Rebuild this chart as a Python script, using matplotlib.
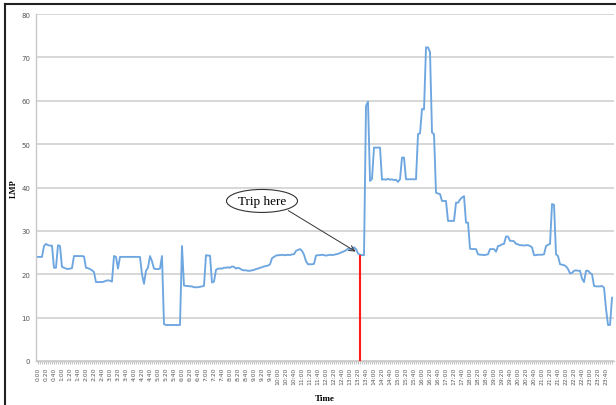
import matplotlib
matplotlib.use('Agg')
import matplotlib.pyplot as plt
from matplotlib.patches import Ellipse

# LMP every 5 minutes, one row per hour
lmp = [
    24.0, 24.0, 24.0, 26.5, 27.0, 26.7, 26.6, 26.6, 21.5, 21.5, 26.7, 26.5,
    21.7, 21.5, 21.3, 21.2, 21.3, 21.4, 24.2, 24.2, 24.2, 24.2, 24.2, 24.1,
    21.5, 21.4, 21.2, 20.9, 20.5, 18.2, 18.2, 18.2, 18.2, 18.3, 18.5, 18.6,
    18.5, 18.3, 24.2, 24.0, 21.3, 24.0, 24.0, 24.0, 24.0, 24.0, 24.0, 24.0,
    24.0, 24.0, 24.0, 24.0, 20.0, 17.8, 20.8, 21.5, 24.2, 23.0, 21.3, 21.2,
    21.2, 21.3, 24.2, 8.5, 8.3, 8.3, 8.3, 8.3, 8.3, 8.3, 8.3, 8.3,
    26.5, 17.4, 17.3, 17.3, 17.2, 17.2, 17.0, 17.0, 17.0, 17.1, 17.2, 17.3,
    24.4, 24.3, 24.3, 18.1, 18.3, 21.0, 21.3, 21.3, 21.3, 21.5, 21.5, 21.6,
    21.5, 21.8, 21.7, 21.3, 21.5, 21.3, 21.0, 20.9, 20.9, 20.8, 20.8, 20.9,
    21.0, 21.2, 21.3, 21.5, 21.6, 21.8, 21.9, 22.0, 22.3, 23.7, 24.0, 24.3,
    24.4, 24.4, 24.5, 24.4, 24.4, 24.5, 24.4, 24.6, 24.6, 25.4, 25.6, 25.8,
    25.4, 24.5, 23.0, 22.3, 22.3, 22.3, 22.4, 24.3, 24.4, 24.4, 24.5, 24.4,
    24.3, 24.4, 24.5, 24.4, 24.5, 24.6, 24.7, 24.9, 25.1, 25.3, 25.5, 25.9,
    25.8, 25.9, 26.2, 25.8, 24.8, 24.5, 24.4, 24.4, 58.8, 59.8, 41.5, 42.0,
    49.2, 49.2, 49.2, 49.2, 41.8, 41.9, 41.8, 42.0, 41.8, 41.9, 41.7, 41.8,
    41.3, 41.9, 46.9, 46.9, 41.9, 41.9, 41.9, 41.9, 41.9, 41.9, 52.3, 52.5,
    58.1, 58.0, 72.3, 72.3, 71.2, 52.7, 52.3, 38.8, 38.6, 38.5, 36.9, 36.9,
    36.9, 32.3, 32.3, 32.3, 32.3, 36.5, 36.5, 37.2, 37.7, 38.0, 31.9, 31.9,
    25.9, 25.8, 25.8, 25.8, 24.6, 24.5, 24.5, 24.4, 24.5, 24.6, 25.8, 25.8,
    25.8, 25.2, 26.5, 26.6, 26.9, 27.0, 28.7, 28.7, 27.7, 27.7, 27.6, 27.0,
    26.9, 26.7, 26.7, 26.6, 26.7, 26.7, 26.5, 26.2, 24.4, 24.4, 24.5, 24.5,
    24.5, 24.6, 26.5, 26.8, 27.0, 36.2, 36.0, 24.6, 24.2, 22.3, 22.2, 22.1,
    21.8, 21.2, 20.2, 20.3, 20.8, 20.9, 20.8, 20.8, 19.0, 18.2, 20.8, 20.8,
    20.3, 20.0, 17.3, 17.2, 17.2, 17.2, 17.3, 16.9, 12.0, 8.3, 8.3, 14.6,
]
times = [f"{i // 12}:{(i % 12) * 5:02d}" for i in range(len(lmp))]
trip_time = "13:25"
trip_lmp = 24.5

x = list(range(len(lmp)))
trip_x = times.index(trip_time)

fig = plt.figure(figsize=(6.16, 4.06), dpi=100)
ax = fig.add_axes([0.0584, 0.1084, 0.9384, 0.8546])

ax.plot(x, lmp, color='#6ea6e0', lw=1.35, zorder=3)
ax.vlines(trip_x, 0, trip_lmp, color='#ff1a1a', lw=1.5, zorder=4)

ax.set_xlim(-1, len(lmp))
ax.set_ylim(0, 80)
ax.set_yticks(range(0, 81, 10))
ax.set_xticks(x[::4])
ax.set_xticklabels(times[::4], rotation=90, fontsize=4.3, color='#555555')
ax.set_xticks(x, minor=True)
ax.tick_params(axis='y', labelsize=5, colors='#555555', length=0, pad=4)
ax.tick_params(axis='x', which='both', length=2, color='#bbbbbb', pad=2)
ax.yaxis.grid(True, color='#d4d4d4', lw=1.3)
ax.set_axisbelow(True)
for side in ['top', 'right']:
    ax.spines[side].set_visible(False)
for side in ['left', 'bottom']:
    ax.spines[side].set_color('#c8c8c8')
    ax.spines[side].set_linewidth(1)

ax.set_ylabel('LMP', fontsize=6, fontweight='bold', family='Liberation Serif')
ax.yaxis.set_label_coords(-0.031, 0.5)
ax.set_xlabel('Time', fontsize=6.5, fontweight='bold', family='Liberation Serif')
ax.xaxis.set_label_coords(0.5, -0.095)

# annotation
ax.add_patch(Ellipse((112, 36.9), 35.5, 5.3, fill=False, ec='#333333', lw=0.8, zorder=5))
ax.text(112, 36.9, 'Trip here', ha='center', va='center', fontsize=9.5,
        family='Liberation Serif', zorder=6)
ax.annotate('', xy=(160, 24.9), xytext=(124, 35.0),
            arrowprops=dict(arrowstyle='->', color='#333333', lw=0.7), zorder=6)

# outer frame
fig.add_artist(plt.Line2D([0.008, 0.008], [0, 0.988], color='#222222', lw=1.5))
fig.add_artist(plt.Line2D([0.008, 1], [0.988, 0.988], color='#222222', lw=1.5))

fig.savefig('out.png', dpi=100)
